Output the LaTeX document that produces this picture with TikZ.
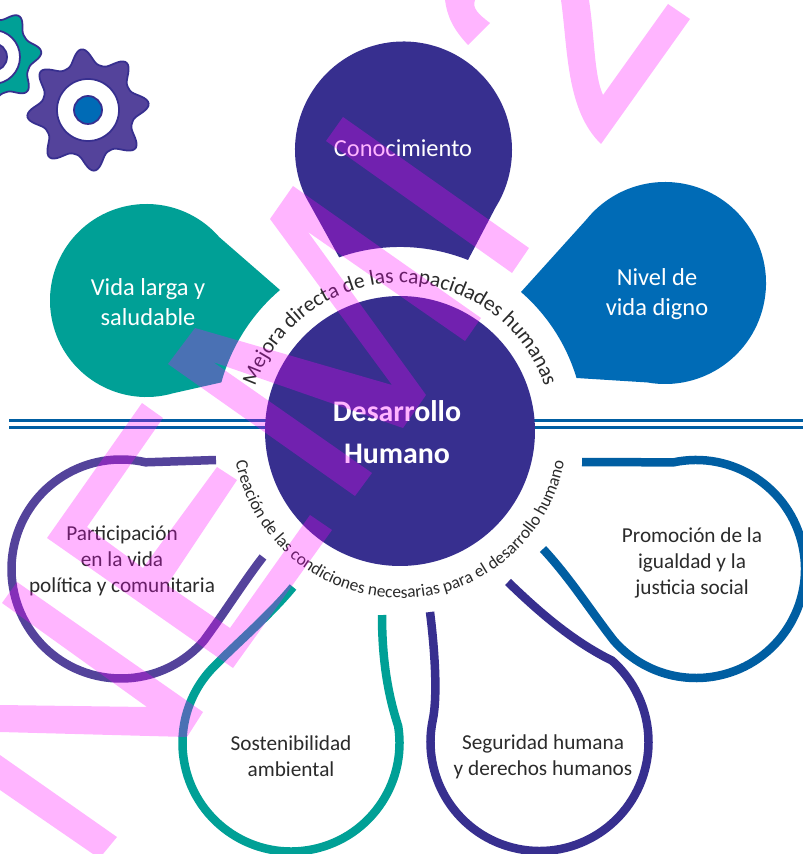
\documentclass[tikz,border=0pt]{standalone}
\usepackage{fontspec}
\setmainfont{Carlito}
\usepackage{xcolor}
\usepackage{tikz}
\usetikzlibrary{calc,decorations.text}
\definecolor{navy}{HTML}{372F8F}
\definecolor{violet}{HTML}{54439B}
\definecolor{teal}{HTML}{00A096}
\definecolor{azure}{HTML}{006BB6}
\definecolor{deepblue}{HTML}{005EA2}
\definecolor{ink}{HTML}{2B2B2B}
\definecolor{stamp}{RGB}{255,0,255}
\tikzset{
  rule/.style={draw=deepblue},
  loopline/.style={line width=0.17cm},
  blob/.style={draw=none},
  gearline/.style={draw=navy, line width=0.035cm},
  wmark/.style={fill=stamp, fill opacity=0.29, draw=none},
  lightlbl/.style={text=white, align=center, font=\fontsize{13.9}{17}\selectfont},
  darklbl/.style={text=ink, align=center, font=\fontsize{12.1}{15}\selectfont},
  hublbl/.style={text=white, align=center, font=\bfseries\fontsize{17}{24}\selectfont}
}
\newcommand{\upperring}{\fontsize{12.2}{13}\selectfont\color{ink}}
\newcommand{\lowerring}{\fontsize{9.9}{11}\selectfont\color{ink}}

\begin{document}
\begin{tikzpicture}[x=0.02cm, y=0.02cm]
  \useasboundingbox (0,0) rectangle (803,-854);
  \clip (0,0) rectangle (803,-854);
  \fill[white] (0,0) rectangle (803,-854);

  \coordinate (hub) at (400,-431);
  \coordinate (ringtop) at (400,-436);

  % gears
  \filldraw[gearline, fill=teal] plot[variable=\t, domain=0:360, samples=180]
    ({-7+(37.5+11*(0.5+0.5*cos(7*(\t-6)))^1.5)*cos(\t)}, {-57+(37.5+11*(0.5+0.5*cos(7*(\t-6)))^1.5)*sin(\t)}) -- cycle;
  \filldraw[gearline, fill=white] (-7,-57) circle (27);
  \filldraw[gearline, fill=violet] (-7,-57) circle (14);
  \filldraw[gearline, fill=violet] plot[variable=\t, domain=0:360, samples=180]
    ({88+(46+15*(0.5+0.5*cos(8*(\t-6)))^1.5)*cos(\t)}, {-110+(46+15*(0.5+0.5*cos(8*(\t-6)))^1.5)*sin(\t)}) -- cycle;
  \filldraw[gearline, fill=white] (88,-110) circle (31);
  \filldraw[gearline, fill=azure] (88,-110) circle (14);

  % blobs
  \fill[blob, navy] (339,-257) -- ($(403.5,-150)+(205:108.5)$) arc (205:-32:108.5) -- (468,-260) arc (68.3:109.3:184) -- cycle;
  \fill[blob, teal] (280,-290) arc (130.4:164.8:185) -- ($(146.5,-300.5)+(-74:96.5)$) arc (-74:-319:96.5) -- cycle;
  \fill[blob, azure] (521,-292) arc (49:16.7:184) -- ($(665,-283)+(-100:101)$) arc (-100:141:101) -- cycle;

  % rules
  \draw[rule, line width=0.05cm] (9,-420.5) -- (803,-420.5);
  \draw[rule, line width=0.06cm] (9,-427) -- (803,-427);

  \node[circle, fill=navy, minimum size=5.4cm, inner sep=0pt] (desarrollo) at (hub) {};
  \node[hublbl] (hubtext) at (397,-432) {Desarrollo\\Humano};

  % loops
  \draw[loopline, violet] (216,-460) -- ($(121,-569)+(77:109.5)$) arc (77:319:109.5)
    .. controls (225,-612) and (245,-580) .. (263,-557);
  \draw[loopline, teal] (382,-615) .. controls (382,-660) and (388,-695) .. ($(291,-743)+(9:108.5)$)
    arc (9:-227:108.5) .. controls (235,-645) and (270,-615) .. (293,-587);
  \draw[loopline, navy] (430,-612) .. controls (436,-660) and (437,-700) .. ($(539.5,-742)+(168.3:109)$)
    arc (168.3:408.3:109) .. controls (570,-640) and (535,-608) .. (508,-582);
  \draw[loopline, deepblue] (582,-462) -- ($(696,-569)+(102:109)$) arc (102:-139:109)
    .. controls (590,-610) and (570,-578) .. (543,-549);

  % ring texts
  \path[decorate, decoration={text along path, text align=center,
    text={|\upperring|Mejora directa de las capacidades humanas}}]
    ($(ringtop)+(170:153)$) arc (170:10:153);
  \path[decorate, decoration={text along path, text align=center,
    text={|\lowerring|Creación de las condiciones necesarias para el desarrollo humano}}]
    ($(hub)+(180:167)$) arc (180:360:167);

  % labels
  \node[lightlbl] (conocimiento) at (403,-148) {Conocimiento};
  \node[lightlbl] (vida) at (148,-302) {Vida larga y\\saludable};
  \node[lightlbl] (nivel) at (657,-294) {Nivel de\\vida digno};
  \node[darklbl] (participacion) at (122,-561) {Participación\\en la vida\\política y comunitaria};
  \node[darklbl] (sostenibilidad) at (291,-756) {Sostenibilidad\\ambiental};
  \node[darklbl] (seguridad) at (543,-757) {Seguridad humana\\y derechos humanos};
  \node[darklbl] (promocion) at (692,-563) {Promoción de la\\igualdad y la\\justicia social};

  % watermark
  \fill[wmark] (445,0) .. controls (447,-15) and (452,-28) .. (468,-45) -- (490,-23) .. controls (478,-14) and (472,-8) .. (475,0) -- cycle;
  \fill[wmark] (561,0) .. controls (568,-50) and (566,-110) .. (601,-144) -- (690,-19) -- (668,-4) -- (603,-95) .. controls (594,-75) and (595,-40) .. (589,0) -- cycle;
  \fill[wmark] (343,-117) -- (326,-141) -- (512,-273) -- (529,-248) -- cycle;
  \fill[wmark] (293,-186) -- (481,-318) -- (465,-341) -- (308,-232) -- (426,-395) -- (403,-428) -- (213,-362)
    -- (372,-473) -- (355,-496) -- (168,-364) -- (195,-328) -- (392,-385) -- (270,-219) -- cycle;
  \fill[wmark] (142,-403) -- (163,-418) -- (87,-527) -- (143,-568) -- (217,-467) -- (237,-480) -- (167,-585)
    -- (230,-628) -- (310,-515) -- (332,-530) -- (233,-668) -- (47,-538) -- cycle;
  \fill[wmark] (17,-582) -- (203,-712) -- (187,-737) -- (0,-732) -- (0,-705) -- (147,-707) -- (2,-603) -- cycle;
  \fill[wmark] (0,-755) -- (117,-837) -- (103,-854) -- (93,-854) -- (0,-790) -- cycle;
\end{tikzpicture}
\end{document}
